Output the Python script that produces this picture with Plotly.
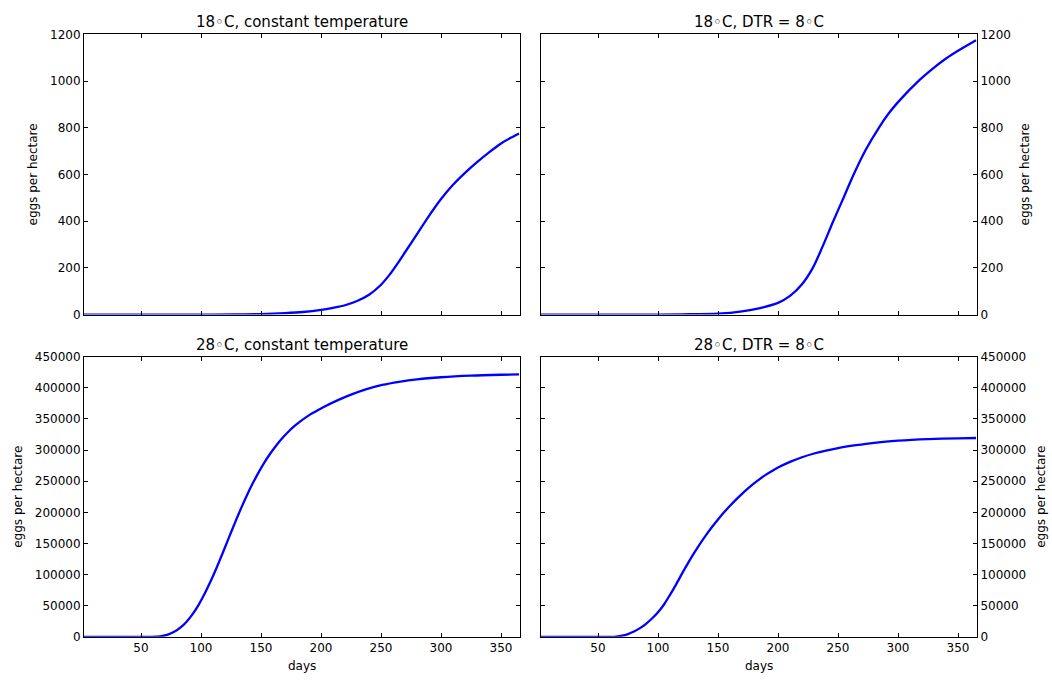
import plotly.graph_objects as go

# ---- data ----
days_18c = [1, 100, 130, 150, 170, 185, 200, 210, 220, 230, 240, 250, 257, 263, 270, 280, 290, 300, 310, 320, 330, 340, 350, 358, 365]
eggs_18c = [0, 0, 0.7, 2, 6, 11, 20, 29, 40, 58, 85, 128, 170, 213, 267, 345, 423, 495, 556, 607, 653, 695, 733, 757, 776]

days_18d = [1, 100, 120, 150, 170, 185, 200, 210, 220, 229, 237, 246, 255, 263, 273, 284, 292, 300, 318, 330, 340, 350, 365]
eggs_18d = [0, 0, 1, 4, 14, 28, 50, 80, 130, 200, 290, 400, 505, 600, 705, 800, 860, 910, 1005, 1058, 1097, 1130, 1175]

days_28c = [1, 55, 63, 68, 73, 78, 83, 88, 93, 98, 103, 108, 113, 118, 123, 128, 133, 138, 143, 148, 153, 158, 163,
            168, 173, 178, 183, 188, 193, 198, 203, 215, 225, 238, 251, 265, 280, 300, 325, 350, 365]
eggs_28c = [0, 0, 300, 1425, 3925, 8425, 15175, 24425, 36425, 51425, 69175, 89175, 111050, 134300, 158175, 181925,
            204800, 226300, 246175, 264300, 280675, 295300, 308300, 319800, 329925, 338800, 346550, 353375, 359400,
            364725, 370000, 381000, 389200, 398000, 404600, 409600, 413600, 417000, 419600, 421000, 421600]

days_28d = [1, 55, 60, 65, 70, 75, 80, 85, 90, 95, 100, 105, 110, 115, 120, 125, 130, 135, 140, 145, 150, 155, 160,
            165, 170, 175, 180, 185, 190, 195, 200, 210, 220, 230, 240, 250, 265, 280, 300, 325, 350, 365]
eggs_28d = [0, 0, 100, 500, 1800, 4500, 8500, 14000, 21000, 29500, 39500, 52000, 67500, 84000, 101500, 118500,
            134500, 149500, 163500, 176500, 188500, 200000, 210500, 220500, 229800, 238500, 246500, 253800, 260600,
            266500, 272000, 281000, 288500, 294500, 299300, 303300, 307900, 311700, 315100, 317600, 318900, 319400]

titles = ["18\u25e6C, constant temperature", "18\u25e6C, DTR = 8\u25e6C",
          "28\u25e6C, constant temperature", "28\u25e6C, DTR = 8\u25e6C"]
x_ticks = [50, 100, 150, 200, 250, 300, 350]
top_yticks = [0, 200, 400, 600, 800, 1000, 1200]
bot_yticks = [0, 50000, 100000, 150000, 200000, 250000, 300000, 350000, 400000, 450000]

W, H = 1052, 685
FONT = "DejaVu Sans"

# plot-area pixel boxes (left, right, top, bottom)
boxes = [(84, 520, 28, 314), (541, 977, 28, 314), (84, 520, 357, 643), (541, 977, 357, 643)]

fig = go.Figure()
series = [(days_18c, eggs_18c), (days_18d, eggs_18d), (days_28c, eggs_28c), (days_28d, eggs_28d)]
for i, (dx, dy) in enumerate(series):
    n = "" if i == 0 else str(i + 1)
    fig.add_trace(go.Scatter(x=dx, y=dy, mode="lines", line=dict(color="#0000ff", width=2.3, shape="spline", smoothing=0.8),
                             xaxis="x" + n, yaxis="y" + n, showlegend=False, hoverinfo="skip"))

for i, (l, r, t, b) in enumerate(boxes):
    n = "" if i == 0 else str(i + 1)
    right = i % 2 == 1
    top = i < 2
    xa = dict(domain=[l / W, r / W], range=[2.5, 365.8], anchor="y" + n,
              tickvals=x_ticks, ticks="inside", ticklen=4, tickwidth=1, tickcolor="black",
              showline=True, linecolor="black", linewidth=1, mirror="ticks",
              showgrid=False, zeroline=False, showticklabels=not top,
              tickfont=dict(family=FONT, size=12, color="black"))
    ya = dict(domain=[1 - b / H, 1 - t / H], range=[0, 1200] if top else [0, 450000], anchor="x" + n,
              tickvals=top_yticks if top else bot_yticks, tickformat="d",
              ticks="inside", ticklen=4, tickwidth=1, tickcolor="black",
              showline=True, linecolor="black", linewidth=1, mirror="ticks",
              showgrid=False, zeroline=False, side="right" if right else "left",
              tickfont=dict(family=FONT, size=12, color="black"))
    fig.update_layout(**{"xaxis" + n: xa, "yaxis" + n: ya})

    fig.add_annotation(text=titles[i], x=(l + r) / 2 / W, y=1 - t / H, xref="paper", yref="paper",
                       xanchor="center", yanchor="bottom", yshift=1, showarrow=False,
                       font=dict(family=FONT, size=15, color="black"))
    if top:
        yx = 33 if not right else 1025
    else:
        yx = 18 if not right else 1041
    fig.add_annotation(text="eggs per hectare", x=yx / W, y=1 - (t + b) / 2 / H, xref="paper", yref="paper",
                       xanchor="center", yanchor="middle", textangle=-90, showarrow=False,
                       font=dict(family=FONT, size=12, color="black"))
    if not top:
        fig.add_annotation(text="days", x=(l + r) / 2 / W, y=1 - 673 / H, xref="paper", yref="paper",
                           xanchor="center", yanchor="middle", showarrow=False,
                           font=dict(family=FONT, size=12, color="black"))

fig.update_layout(width=W, height=H, autosize=False, margin=dict(l=0, r=0, t=0, b=0),
                  paper_bgcolor="white", plot_bgcolor="white",
                  font=dict(family=FONT, size=12, color="black"))

fig.write_html("out.html")
